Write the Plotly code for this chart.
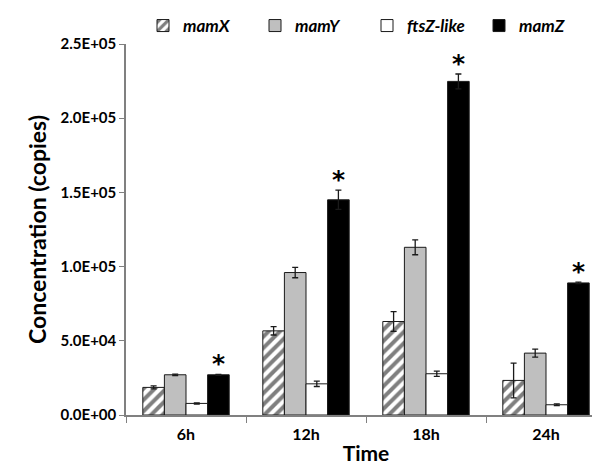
import plotly.graph_objects as go

times = ["6h", "12h", "18h", "24h"]
mamX = [18600, 56700, 63000, 23300]
mamX_err = [1000, 2800, 6700, 11700]
mamY = [27100, 96000, 113000, 41700]
mamY_err = [500, 3500, 5000, 2700]
ftsZ = [7800, 21000, 27800, 6900]
ftsZ_err = [400, 1800, 1800, 600]
mamZ = [27100, 145000, 224800, 89000]
mamZ_err = [300, 6500, 5000, 500]
y_ticks = [0, 50000, 100000, 150000, 200000, 250000]
y_tick_labels = ["0.0E+00", "5.0E+04", "1.0E+05", "1.5E+05", "2.0E+05", "2.5E+05"]

FONT = "Lato"
line = dict(color="#1a1a1a", width=1)
err = lambda v: dict(type="data", array=v, color="#1a1a1a", thickness=1.3, width=3)

fig = go.Figure()
fig.add_bar(name="<b><i>mamX</i></b>", x=times, y=mamX, error_y=err(mamX_err),
            marker=dict(color="white", line=line,
                        pattern=dict(shape="/", fgcolor="black", bgcolor="white",
                                     size=8, solidity=0.5)))
fig.add_bar(name="<b><i>mamY</i></b>", x=times, y=mamY, error_y=err(mamY_err),
            marker=dict(color="#BFBFBF", line=line))
fig.add_bar(name="<b><i>ftsZ-like</i></b>", x=times, y=ftsZ, error_y=err(ftsZ_err),
            marker=dict(color="white", line=line))
fig.add_bar(name="<b><i>mamZ</i></b>", x=times, y=mamZ, error_y=err(mamZ_err),
            marker=dict(color="black", line=line))

bargap = 0.28
bw = (1 - bargap) / 4
for i, (v, e) in enumerate(zip(mamZ, mamZ_err)):
    fig.add_annotation(x=i + 1.5 * bw, y=v + e, text="<b>*</b>", showarrow=False,
                       yanchor="bottom", yshift=-6,
                       font=dict(family="DejaVu Sans", size=25, color="black"))

fig.update_layout(
    width=600, height=466,
    barmode="group", bargap=bargap, bargroupgap=0,
    plot_bgcolor="white", paper_bgcolor="white",
    margin=dict(l=118, r=2, t=36, b=59),
    font=dict(family=FONT, color="black"),
    showlegend=True,
    legend=dict(orientation="h", xref="container", yref="container",
                x=0.225, y=1.0, xanchor="left", yanchor="top",
                font=dict(family=FONT, size=17, color="black"),
                itemwidth=30, entrywidth=67, entrywidthmode="pixels",
                traceorder="normal", tracegroupgap=0),
    xaxis=dict(
        automargin=False,
        showline=True, linecolor="#808080", linewidth=1.5,
        ticks="outside", tickson="boundaries", ticklen=6, tickcolor="#808080",
        ticklabelstandoff=4,
        tickfont=dict(family=FONT, size=16, color="black", weight="bold"),
        title=dict(text="<b>Time</b>", font=dict(family=FONT, size=21), standoff=4),
    ),
    yaxis=dict(
        automargin=False,
        range=[0, 250000], tickvals=y_ticks, ticktext=y_tick_labels,
        showline=True, linecolor="#808080", linewidth=1.5,
        ticks="outside", ticklen=5, tickcolor="#808080", showgrid=False, zeroline=False,
        tickfont=dict(family=FONT, size=15, color="black", weight="bold"),
        title=dict(text="<b>Concentration (copies)</b>", font=dict(family=FONT, size=23), standoff=8),
    ),
)
fig.write_html("out.html")
